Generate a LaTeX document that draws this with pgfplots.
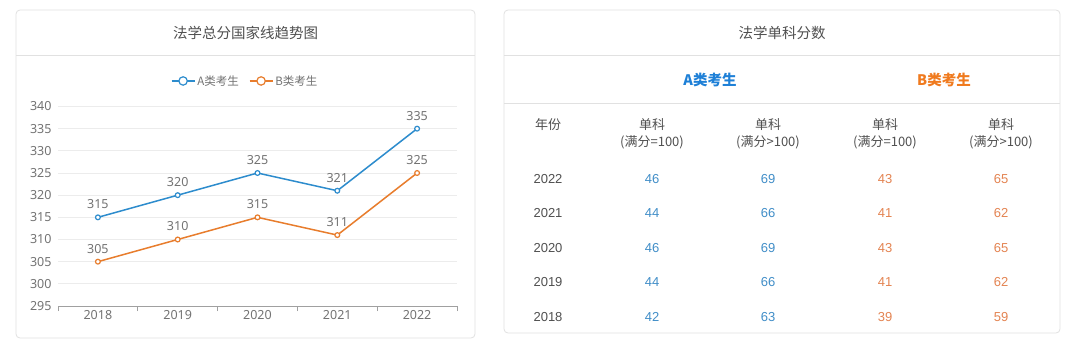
\documentclass[border=0pt]{standalone}
\usepackage{fontspec}
\usepackage{pgfplots}
\pgfplotsset{compat=1.18}
\setmainfont{Liberation Sans}
\newfontfamily\cjk{Noto Sans CJK SC}
\newfontfamily\seg{Noto Sans}
\definecolor{lineA}{RGB}{45,140,205}
\definecolor{lineB}{RGB}{232,125,45}
\definecolor{tblA}{RGB}{65,142,200}
\definecolor{tblB}{RGB}{228,132,82}
\definecolor{hdrA}{RGB}{30,128,215}
\definecolor{hdrB}{RGB}{240,122,30}
\definecolor{txt}{RGB}{80,80,80}
\definecolor{tickc}{RGB}{115,115,115}
\definecolor{axc}{RGB}{160,160,160}
\definecolor{border}{RGB}{225,225,225}
\definecolor{gridc}{RGB}{236,236,236}
\begin{document}
\begin{tikzpicture}
\path[use as bounding box, fill=white] (0pt,0pt) rectangle (1080pt,-349pt);
% ---------- left panel ----------
\draw[border, line width=0.8pt, rounded corners=4pt] (16pt,-10pt) rectangle (475pt,-338pt);
\draw[border, line width=0.8pt] (16pt,-55pt) -- (475pt,-55pt);
\node[txt, font=\cjk\fontsize{14.5}{16}\selectfont] at (245.5pt,-33pt) {法学总分国家线趋势图};
\begin{axis}[
  at={(58pt,-306pt)}, anchor=south west, scale only axis,
  width=399pt, height=199.5pt,
  xmin=-0.5, xmax=4.5, ymin=295, ymax=340,
  ytick={295,300,...,340},
  xtick={0,...,4}, xticklabels={2018,2019,2020,2021,2022},
  minor xtick={-0.5,0.5,1.5,2.5,3.5,4.5},
  axis x line*=bottom, axis y line*=left,
  y axis line style={draw=none},
  x axis line style={draw=axc, line width=0.9pt, -},
  major tick length=0pt, minor tick length=5pt,
  tick align=outside,
  minor tick style={draw=axc, line width=0.9pt},
  ymajorgrids, grid style={gridc, line width=0.8pt},
  tick label style={font=\seg\fontsize{12.5}{12}\selectfont, text=tickc},
  /pgf/number format/assume math mode=true,
  yticklabel style={xshift=-3pt},
  xticklabel style={yshift=-1pt},
  clip=false,
  nodes near coords,
  every node near coord/.append style={font=\seg\fontsize{12.5}{12}\selectfont, text=tickc, anchor=south, yshift=4.5pt},
  legend style={at={(0.469,1.128)}, anchor=center, draw=none, fill=none,
    legend columns=2, font=\cjk\fontsize{11.5}{12}\selectfont, text=tickc,
    /tikz/every even column/.append style={column sep=8pt},
    legend cell align=left},
  legend image code/.code={\draw[mark repeat=2,mark phase=2,#1,mark size=4.2pt] plot coordinates {(0pt,0pt) (11.5pt,0pt) (23pt,0pt)};},
]
\addplot[lineA, line width=1.5pt, mark=*, mark size=2.4pt, mark options={fill=white, line width=1.2pt}]
  coordinates {(0,315) (1,320) (2,325) (3,321) (4,335)};
\addlegendentry{A类考生}
\addplot[lineB, line width=1.5pt, mark=*, mark size=2.4pt, mark options={fill=white, line width=1.2pt}]
  coordinates {(0,305) (1,310) (2,315) (3,311) (4,325)};
\addlegendentry{B类考生}
\end{axis}
% ---------- right panel ----------
\draw[border, line width=0.8pt, rounded corners=4pt] (504pt,-10pt) rectangle (1060pt,-333pt);
\draw[border, line width=0.8pt] (504pt,-55pt) -- (1060pt,-55pt);
\draw[border, line width=0.8pt] (504pt,-103pt) -- (1060pt,-103pt);
\node[txt, font=\cjk\fontsize{14.5}{16}\selectfont] at (782pt,-33pt) {法学单科分数};
\node[hdrA, font=\cjk\bfseries\fontsize{14.5}{16}\selectfont] at (710pt,-80pt) {A类考生};
\node[hdrB, font=\cjk\bfseries\fontsize{14.5}{16}\selectfont] at (944pt,-80pt) {B类考生};
\node[txt, font=\cjk\fontsize{13}{14}\selectfont] at (548pt,-125pt) {年份};
\foreach \cx/\lab in {652/{(满分=100)},768/{(满分>100)},885/{(满分=100)},1001/{(满分>100)}}{
  \node[txt, font=\cjk\fontsize{13}{14}\selectfont] at (\cx pt,-125pt) {单科};
  \node[txt, font=\cjk\fontsize{13}{14}\selectfont] at (\cx pt,-142pt) {\lab};
}
\foreach \ry/\yr/\a/\b/\c/\d in {179/2022/46/69/43/65, 213.5/2021/44/66/41/62, 248/2020/46/69/43/65, 282.5/2019/44/66/41/62, 317/2018/42/63/39/59}{
  \node[txt, font=\fontsize{13}{14}\selectfont] at (548pt,-\ry pt) {\yr};
  \node[tblA, font=\fontsize{13}{14}\selectfont] at (652pt,-\ry pt) {\a};
  \node[tblA, font=\fontsize{13}{14}\selectfont] at (768pt,-\ry pt) {\b};
  \node[tblB, font=\fontsize{13}{14}\selectfont] at (885pt,-\ry pt) {\c};
  \node[tblB, font=\fontsize{13}{14}\selectfont] at (1001pt,-\ry pt) {\d};
}
\end{tikzpicture}
\end{document}
